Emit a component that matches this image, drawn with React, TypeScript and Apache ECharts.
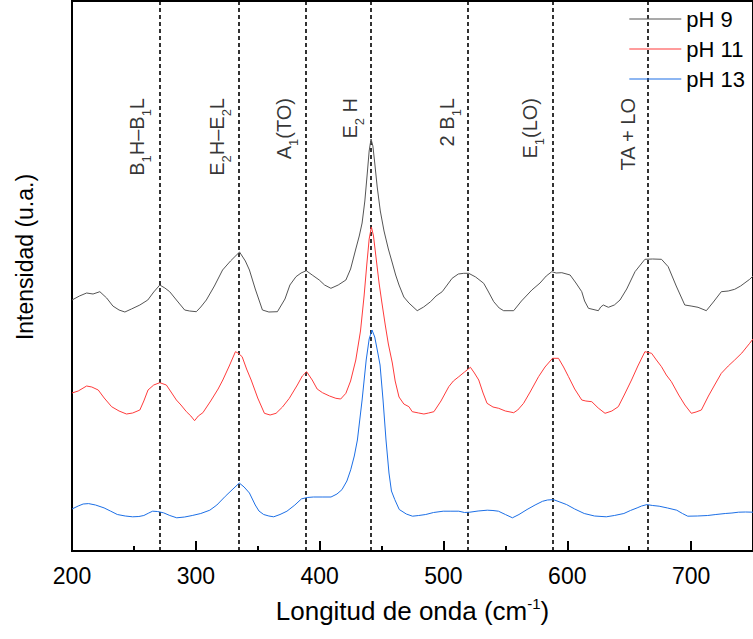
import React, { useEffect, useRef } from 'react';
import * as echarts from 'echarts';

// Raman shift (cm-1), intensity (a.u., offset spectra)
const pH9: number[][] = [
  [200, 251], [206, 255], [211.8, 258], [217, 257], [222.5, 259.3], [228, 253], [233, 245], [238, 241], [242.7, 239], [248, 242],
  [254.8, 246], [261.2, 251], [266, 259], [270.9, 266], [275, 263], [278.9, 259.3], [285, 250], [291, 241], [295, 240], [300.4, 239.3],
  [304, 244], [308.5, 251], [315, 265], [321.6, 281], [328, 290], [335.3, 299], [340, 290], [343.3, 281], [348, 262], [353.8, 241],
  [359, 239], [365.9, 239.3], [372, 252], [376, 266], [380.9, 274.3], [385, 278], [389.2, 280.3], [394, 276], [399.7, 271], [404, 266],
  [409.1, 262.7], [415, 266], [421.2, 271], [425, 282], [429.2, 302], [432, 315], [434.3, 328], [436.5, 350], [438.5, 378], [440, 400],
  [441.5, 412], [443, 405], [444.5, 388], [446.5, 364], [449, 340], [452, 320], [455.5, 302], [458.7, 288], [461.4, 276], [464.1, 266],
  [468, 254], [472.1, 248], [478.8, 240.3], [484, 244], [489.6, 249.3], [494, 255], [499, 259.3], [503, 266], [507, 272.7], [512, 277],
  [516.4, 277.7], [520.4, 277.7], [526, 274], [532.5, 267.7], [536, 260], [540.6, 249.3], [545, 243], [548.6, 240.3], [556.7, 240.3], [563, 250],
  [571.4, 261], [578, 268], [583, 275], [587.5, 279.3], [591, 278], [595.6, 278.3], [602.3, 276], [607, 268], [611.7, 259.3], [614, 250],
  [617.1, 242.7], [625.1, 240.3], [627, 244], [629.1, 246], [633.2, 243.7], [638, 246], [642.6, 251], [648, 262], [654.7, 279.3], [659, 286],
  [662.7, 291.7], [669, 292], [676.1, 291.7], [681.5, 284.3], [688, 265], [694.9, 246], [700, 245], [705.6, 243.7], [712.3, 240.3], [718, 249],
  [724.4, 259.3], [730, 260], [735.2, 261.7], [740, 265], [747.3, 271.7], [750, 275],
];

const pH11: number[][] = [
  [200, 158], [205, 160], [211.8, 165], [216, 164], [221.2, 161], [226, 153], [232, 144.3], [238, 140], [244, 137], [249, 138],
  [254.8, 141], [258, 150], [261.4, 161], [266, 166], [270.9, 168.3], [276.2, 166], [280, 159], [284.3, 151], [288, 146], [292.4, 139.3],
  [296, 135], [299, 130.3], [302, 135], [305.7, 138.3], [312, 150], [318, 162], [321.8, 171], [327, 185], [332, 199.3], [334, 198],
  [337.4, 194.3], [341, 182], [344.7, 171], [350, 153], [355.4, 137.7], [360, 136], [364.8, 137.7], [370, 144], [375.5, 152.7], [382, 166],
  [386, 175], [389.5, 179.3], [394, 171], [398, 162], [402.3, 158.3], [408, 155], [413.1, 152.7], [417, 152], [421.2, 157.7], [425, 170],
  [429.2, 191], [433, 220], [435.9, 255], [438.2, 288], [440, 312], [441.8, 324], [443.5, 315], [445.5, 294], [448, 268], [450.2, 249],
  [453, 226], [455.5, 207], [458.7, 188], [461, 170], [464.1, 154], [468, 147], [472.1, 144.3], [474.8, 139.3], [480, 138], [484.2, 137],
  [488, 138], [492.3, 139.3], [498, 150], [504.3, 164.3], [508, 170], [512.4, 174.3], [517, 179], [521.8, 183.7], [525, 178], [528.5, 171],
  [532, 158], [535.2, 147.7], [540, 144], [544.6, 142.7], [550, 140], [556.7, 138.3], [560, 141], [564.7, 147.7], [570, 159], [576.8, 174.3],
  [582, 184], [588.1, 192.7], [592.9, 192.7], [597, 184], [601, 174.3], [606, 162], [611.7, 151], [615, 150], [619.8, 149.3], [625, 143],
  [630.5, 137.7], [636, 140], [641.2, 144.3], [646, 156], [651.9, 171], [657, 185], [662.7, 199.3], [668.1, 197.7], [672, 191], [676.1, 184.3],
  [680, 176], [684.1, 169.3], [690, 156], [695, 146], [700.2, 137.7], [704, 139], [708.3, 141], [714, 155], [719, 166], [724.4, 177.7],
  [730, 185], [735.2, 191], [741, 198], [747.3, 207.7], [750, 212],
];

const pH13: number[][] = [
  [200, 42], [205, 45], [209, 47], [213.4, 47.4], [219, 46], [225.9, 43.1], [231, 40], [236.6, 36.5], [243, 35], [249, 34.2],
  [254, 34.5], [258, 35.5], [262, 38], [265.1, 39.8], [269, 39.5], [273.9, 38.2], [279, 35.5], [284.6, 33.2], [291, 34], [297.1, 35.5],
  [304, 37.5], [311.3, 40.8], [317, 46], [323.8, 54.7], [330, 62], [335.1, 68], [339, 64], [343.3, 58], [348, 46], [351, 40],
  [354.8, 36.5], [359, 35], [362.9, 34.2], [368, 36.5], [373.6, 39.8], [380, 46], [385.3, 52.1], [390, 53.5], [394.9, 54], [402, 54],
  [409.2, 54], [414, 57], [418, 61.3], [422, 70], [425.1, 81.2], [428, 95], [430.5, 111], [434.3, 151], [437.6, 191], [440, 212],
  [442.3, 221], [444.5, 214], [447, 198], [448.8, 186], [451.2, 151], [453.6, 111], [456, 78], [458, 60], [460.7, 51.4], [464.3, 41.5],
  [470, 37], [475, 34.8], [480, 35.5], [485.7, 36.5], [492, 38.5], [499.8, 39.8], [506, 39.8], [512.4, 39.8], [517, 38.5], [521.3, 38.8],
  [528, 40], [535.4, 40.8], [540, 40.5], [544.4, 39.8], [550, 36.5], [555.7, 33.2], [561, 36.5], [567.5, 41.5], [574, 46], [580, 49.7],
  [584, 51], [588.8, 51.4], [594, 49], [599.5, 46.4], [606, 42], [613.7, 37.5], [622, 35], [631.5, 34.2], [638, 35.5], [645.7, 37.5],
  [651, 40.5], [656.4, 43.1], [660, 45], [664.3, 46.4], [669, 45.5], [674.2, 44.8], [681, 43], [688.4, 40.8], [693, 37.5], [697.3, 34.8],
  [705, 35], [713.4, 35.5], [720, 36.5], [727.6, 37.5], [733, 38], [738.3, 38.8], [744, 39], [750, 38.8],
];

const seriesNames = ['pH 9', 'pH 11', 'pH 13'];
const seriesColors = ['#555555', '#ff3b3b', '#1c6fe6'];

// Vibrational band positions (cm-1) and their labels
const bandPositions = [271, 335, 389, 441, 520, 588, 665];
const bandLabels = [
  'B{s|1}H–B{s|1}L',
  'E{s|2}H–E{s|2}L',
  'A{s|1}(TO)',
  'E{s|2} H',
  '2 B{s|1}L',
  'E{s|1}(LO)',
  'TA + LO',
];
const bandLabelX = [252.7, 317.1, 371.5, 424.2, 502.7, 570.0, 649.3];
const bandLabelY = 453;

const xMin = 200;
const xMax = 750;
const xMajor = 100;
const xMinor = 50;

const FONT = '"Liberation Sans", Arial, sans-serif';

export default function App() {
  const ref = useRef<HTMLDivElement>(null);

  useEffect(() => {
    if (!ref.current) return;
    const chart = echarts.init(ref.current, undefined, { renderer: 'svg' });
    const data = [pH9, pH11, pH13];

    const lineSeries: any[] = data.map((d, i) => ({
      name: seriesNames[i],
      type: 'line',
      data: d,
      symbol: 'none',
      showSymbol: false,
      smooth: false,
      lineStyle: { color: seriesColors[i], width: 1 },
      itemStyle: { color: seriesColors[i] },
      emphasis: { disabled: true },
      z: 3,
      ...(i === 0
        ? {
            markLine: {
              silent: true,
              symbol: ['none', 'none'],
              label: { show: false },
              lineStyle: { color: '#000', width: 1.6, type: [4, 3] },
              data: bandPositions.map((x) => ({ xAxis: x })),
              z: 2,
            },
          }
        : {}),
    }));

    const labelSeries = {
      name: 'bands',
      type: 'scatter',
      data: bandLabelX.map((x) => [x, bandLabelY]),
      symbolSize: 1,
      itemStyle: { color: 'rgba(0,0,0,0)' },
      silent: true,
      z: 5,
      label: {
        show: true,
        position: 'inside',
        rotate: 90,
        align: 'right',
        verticalAlign: 'middle',
        color: '#000',
        fontFamily: FONT,
        fontSize: 20,
        lineHeight: 32,
        formatter: (p: any) => bandLabels[p.dataIndex],
        rich: {
          s: { fontSize: 13, lineHeight: 13, verticalAlign: 'bottom', fontFamily: FONT, color: '#000' },
        },
      },
    };

    chart.setOption({
      animation: false,
      backgroundColor: '#fff',
      textStyle: { fontFamily: FONT },
      grid: {
        left: 72,
        right: -2,
        top: 1,
        bottom: 88,
        show: true,
        borderColor: '#000',
        borderWidth: 2,
        backgroundColor: 'transparent',
      },
      legend: {
        data: seriesNames.map((n, i) => ({ name: n, icon: 'rect', itemStyle: { color: seriesColors[i] } })),
        orient: 'vertical',
        right: 8,
        top: 8,
        padding: 0,
        itemWidth: 52,
        itemHeight: 1.2,
        itemGap: 8,
        textStyle: { fontSize: 22, lineHeight: 22, color: '#000', fontFamily: FONT },
      },
      xAxis: [
        {
          type: 'value',
          min: xMin,
          max: xMax,
          interval: xMajor,
          position: 'bottom',
          name: 'Longitud de onda (cm{sup|-1})',
          nameLocation: 'middle',
          nameGap: 45,
          nameTextStyle: {
            fontSize: 26,
            lineHeight: 30,
            color: '#000',
            fontFamily: FONT,
            rich: {
              sup: { fontSize: 15, lineHeight: 15, verticalAlign: 'top', color: '#000', fontFamily: FONT },
            },
          },
          axisLine: { show: true, lineStyle: { color: '#000', width: 2 } },
          axisTick: { show: true, inside: true, length: 10, lineStyle: { color: '#000', width: 2 } },
          axisLabel: {
            show: true,
            margin: 13,
            fontSize: 23,
            lineHeight: 24,
            color: '#000',
            fontFamily: FONT,
            showMaxLabel: false,
          },
          splitLine: { show: false },
        },
        {
          type: 'value',
          min: xMin,
          max: xMax,
          interval: xMinor,
          position: 'bottom',
          axisLine: { show: false },
          axisTick: { show: true, inside: true, length: 5, lineStyle: { color: '#000', width: 2 } },
          axisLabel: { show: false },
          splitLine: { show: false },
        },
      ],
      yAxis: {
        type: 'value',
        min: 0,
        max: 550,
        axisLine: { show: true, lineStyle: { color: '#000', width: 2 } },
        axisTick: { show: false },
        axisLabel: { show: false },
        splitLine: { show: false },
      },
      graphic: [
        {
          type: 'text',
          x: 25,
          y: 257,
          rotation: Math.PI / 2,
          style: {
            text: 'Intensidad (u.a.)',
            fontSize: 23,
            fontFamily: FONT,
            fill: '#000',
            textAlign: 'center',
            textVerticalAlign: 'middle',
          },
          silent: true,
        },
      ],
      series: [...lineSeries, labelSeries],
    });

    return () => chart.dispose();
  }, []);

  return <div ref={ref} style={{ width: 753, height: 639, position: 'absolute', left: 0, top: 0 }} />;
}
